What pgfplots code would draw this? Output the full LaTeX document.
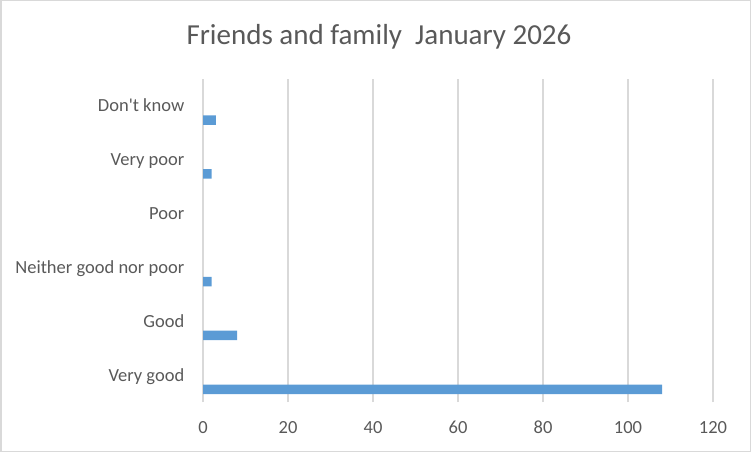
\documentclass[border=0pt]{standalone}
\usepackage{fontspec}
\setmainfont{Carlito}
\usepackage{pgfplots}
\pgfplotsset{compat=1.18}
\definecolor{txt}{HTML}{595959}
\definecolor{gridc}{HTML}{D9D9D9}
\definecolor{barc}{HTML}{5B9BD5}
\begin{document}
\begin{tikzpicture}
\useasboundingbox (0,0) rectangle (751bp,452bp);
\draw[gridc, line width=1.5bp] (0.75bp,0.75bp) rectangle (750.25bp,451.25bp);
\node[anchor=base, text=txt, font=\fontsize{29bp}{33bp}\selectfont, inner sep=0] at (379bp,407bp) {Friends and family\ \ January 2026};
\begin{axis}[
  at={(203bp,50bp)}, anchor=south west,
  scale only axis, width=510bp, height=323bp,
  xmin=0, xmax=120, ymin=-0.5, ymax=5.5,
  xtick={0,20,...,120}, ytick={0,...,5},
  yticklabels={Very good, Good, Neither good nor poor, Poor, Very poor, Don\textquotesingle t know},
  axis line style={draw=none},
  major tick length=0,
  xmajorgrids, major grid style={gridc, line width=1.3bp},
  tick label style={text=txt, font=\fontsize{18.5bp}{22bp}\selectfont, inner sep=0},
  /pgf/number format/assume math mode=true,
  xticklabel style={anchor=base, yshift=-31.3bp},
  yticklabel style={anchor=base east, xshift=-18.5bp, yshift=-6bp},
  xbar, bar width=9.5bp, bar shift=-14.2bp,
]
% values: Very good 108, Good 8, Neither 2, Poor 0 (no bar), Very poor 2, Don't know 3
\addplot[fill=barc, draw=none] coordinates {(108,0) (8,1) (2,2) (2,4) (3,5)};
\end{axis}
\end{tikzpicture}
\end{document}
